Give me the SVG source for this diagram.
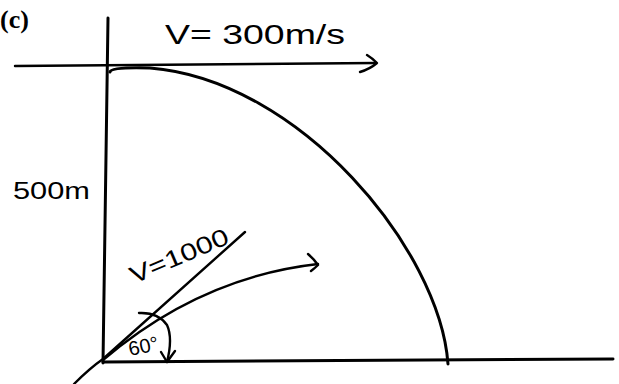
<svg xmlns="http://www.w3.org/2000/svg" width="619" height="384" viewBox="0 0 619 384">
<style>
.ln{fill:none;stroke:#000;stroke-width:3;stroke-linecap:round;stroke-linejoin:round}
.th{stroke-width:2.4}
.hw{font-family:"Liberation Sans","DejaVu Sans",sans-serif;fill:#000}
.lbl{font-family:"Liberation Serif","Times New Roman",serif;font-weight:bold;font-size:26px;fill:#000}
</style>
<rect width="619" height="384" fill="#fff"/>
<text class="lbl" x="0" y="28">(c)</text>
<g id="axes">
<path class="ln" d="M108,18 L103,363"/>
<path class="ln" d="M103,362 L613,359"/>
<path class="ln th" d="M15,66 L376,63"/>
<path class="ln th" d="M367,55 Q372,58 377,63 Q370,69 360,72"/>
</g>
<g id="trajectory">
<path class="ln" d="M110,72 Q111,67 150,68 C300,80 440,250 448,364"/>
</g>
<g id="launch">
<path class="ln th" d="M74,384 Q90,368 103,359 L245,232"/>
<path class="ln th" d="M103,360 C150,320 220,275 318,264"/>
<path class="ln th" d="M308,254 Q314,259 318,265 Q315,268 311,271"/>
<path class="ln th" d="M139,313 Q158,312 167,325 Q173,338 167,362"/>
<path class="ln th" d="M161,352 L167,362 L175,351"/>
</g>
<g id="labels">
<text class="hw" x="165" y="44" font-size="28" textLength="180" lengthAdjust="spacingAndGlyphs">V= 300m/s</text>
<text class="hw" x="13" y="199" font-size="24" textLength="77" lengthAdjust="spacingAndGlyphs">500m</text>
<text class="hw" font-size="24" textLength="105" lengthAdjust="spacingAndGlyphs" transform="translate(134,284) rotate(-23)">V=1000</text>
<text class="hw" font-size="20" transform="translate(130,356) rotate(-12)">60°</text>
</g>
</svg>
